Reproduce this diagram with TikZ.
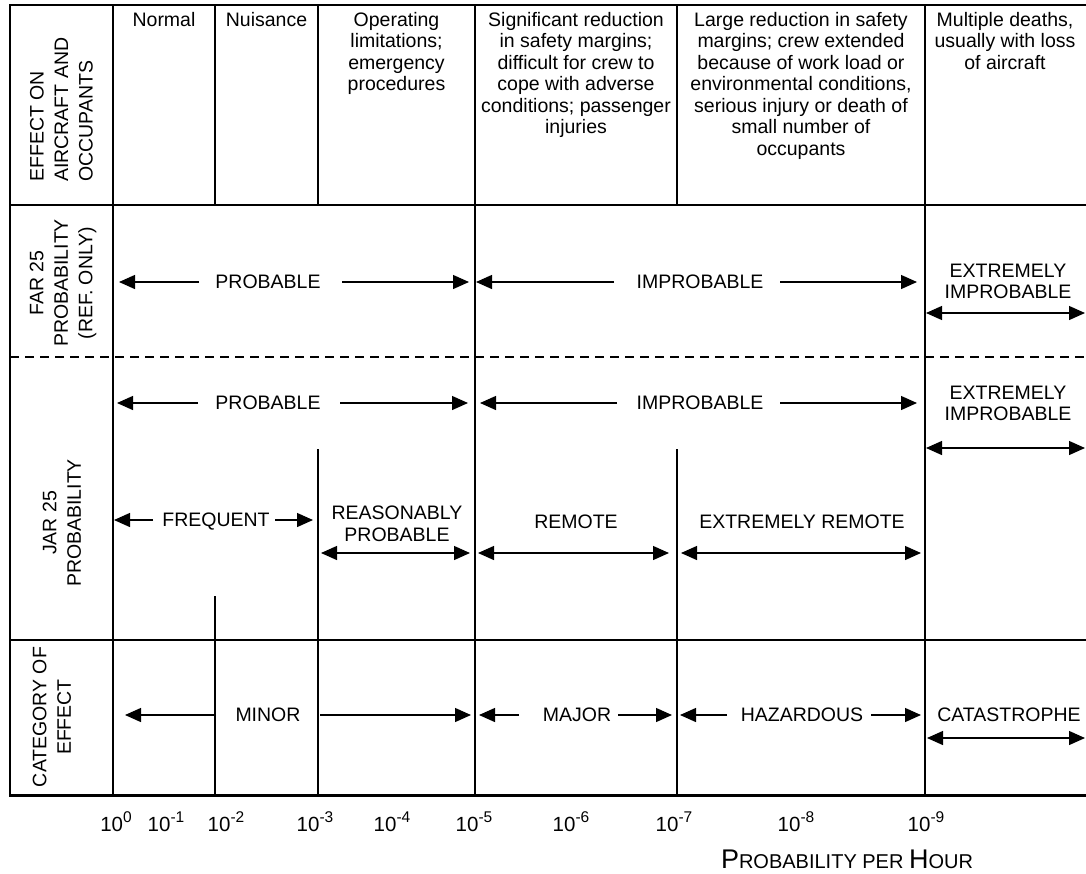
\documentclass[tikz,border=0pt]{standalone}
\usepackage{fontspec}
\setmainfont{Liberation Sans}
\usetikzlibrary{arrows.meta}
\newcommand\fs{\fontsize{19.5}{21.5}\selectfont}
\newcommand\rfs{\fontsize{19.5}{24.5}\selectfont}
\newcommand\bigsc{\fontsize{27}{27}\selectfont}
\newcommand\smsc{\fontsize{20}{22}\selectfont}
\newcommand\tenpow[1]{{\fontsize{20.5}{22}\selectfont 10}\raisebox{8.5pt}{\fontsize{15.5}{15.5}\selectfont #1}}
\begin{document}
\begin{tikzpicture}[x=1pt,y=-1pt,
  thk/.style={line width=2.6pt, line cap=rect},
  med/.style={line width=2.1pt},
  thn/.style={line width=1.8pt},
  hdr/.style={anchor=north, align=center, inner sep=0pt, font=\fs},
  rlab/.style={rotate=90, align=center, inner sep=0pt, font=\rfs},
  lab/.style={inner sep=0pt, font=\fs, align=center},
  Tri/.tip={Triangle[length=16pt,width=14pt]},
  arr/.style={line width=1.3pt,-Tri},
  dar/.style={line width=1.3pt,Tri-Tri}]
\fill[white] (0,0) rectangle (1086,873);
\useasboundingbox (0,0) rectangle (1086,873);
% horizontal lines
\draw[thk] (10,5) -- (1086,5);
\draw[thk] (10,205) -- (1086,205);
\draw[line width=1.8pt, dash pattern=on 9pt off 6pt] (10,357) -- (1086,357);
\draw[thk] (10,640) -- (1086,640);
\draw[thk, line width=3pt] (10,795) -- (1086,795);
% vertical lines
\draw[thk] (10,5) -- (10,795);
\draw[med] (113,5) -- (113,795);
\draw[thk] (215,5) -- (215,205);
\draw[thk] (215,597) -- (215,795);
\draw[med] (318,5) -- (318,205);
\draw[thn] (318,449) -- (318,795);
\draw[med] (475,5) -- (475,795);
\draw[med] (677,5) -- (677,205);
\draw[thn] (677,449) -- (677,795);
\draw[thk, line width=2.8pt] (925,5) -- (925,795);
% header texts
\node[hdr] (hN) at (164,12) {Normal};
\node[hdr] (hNu) at (266.5,12) {Nuisance};
\node[hdr] (hO) at (396.5,12) {Operating\\limitations;\\emergency\\procedures};
\node[hdr] (hS) at (576,12) {Significant reduction\\in safety margins;\\difficult for crew to\\cope with adverse\\conditions; passenger\\injuries};
\node[hdr] (hL) at (801,12) {Large reduction in safety\\margins; crew extended\\because of work load or\\environmental conditions,\\serious injury or death of\\small number of\\occupants};
\node[hdr] (hM) at (1005,12) {Multiple deaths,\\usually with loss\\of aircraft};
% row labels
\node[rlab, align=left, anchor=west] (lE) at (61.5,182) {EFFECT ON\\AIRCRAFT AND\\OCCUPANTS};
\node[rlab] (lF) at (63,283) {FAR 25\\PROBABILITY\\(REF. ONLY)};
\node[rlab] (lJ) at (62,523) {JAR 25\\PROBABILITY};
\node[rlab] (lC) at (52,717) {CATEGORY OF\\EFFECT};
% FAR row
\node[lab] (fP) at (268,282) {PROBABLE};
\coordinate (fP1) at (199,282); \coordinate (fP2) at (119,282);
\coordinate (fP3) at (342,282); \coordinate (fP4) at (469,282);
\draw[arr] (fP1) -- (fP2);
\draw[arr] (fP3) -- (fP4);
\node[lab] (fI) at (700,282) {IMPROBABLE};
\coordinate (fI1) at (614,282); \coordinate (fI2) at (476,282);
\coordinate (fI3) at (780,282); \coordinate (fI4) at (917,282);
\draw[arr] (fI1) -- (fI2);
\draw[arr] (fI3) -- (fI4);
\node[lab] (fE) at (1008,281.5) {EXTREMELY\\IMPROBABLE};
\coordinate (fE1) at (926,313); \coordinate (fE2) at (1085,313);
\draw[dar] (fE1) -- (fE2);
% JAR upper row
\node[lab] (jP) at (268,403) {PROBABLE};
\coordinate (jP1) at (198,403); \coordinate (jP2) at (117,403);
\coordinate (jP3) at (340,403); \coordinate (jP4) at (468,403);
\draw[arr] (jP1) -- (jP2);
\draw[arr] (jP3) -- (jP4);
\node[lab] (jI) at (700,403) {IMPROBABLE};
\coordinate (jI1) at (617,403); \coordinate (jI2) at (480,403);
\coordinate (jI3) at (780,403); \coordinate (jI4) at (917,403);
\draw[arr] (jI1) -- (jI2);
\draw[arr] (jI3) -- (jI4);
\node[lab] (jE) at (1008,403.5) {EXTREMELY\\IMPROBABLE};
\coordinate (jE1) at (926,448); \coordinate (jE2) at (1085,448);
\draw[dar] (jE1) -- (jE2);
% JAR lower row
\node[lab] (jF) at (216,522) {FREQUENT};
\coordinate (jF1) at (153,520); \coordinate (jF2) at (114,520);
\coordinate (jF3) at (275,520); \coordinate (jF4) at (313,520);
\draw[arr] (jF1) -- (jF2);
\draw[arr] (jF3) -- (jF4);
\node[lab] (jR) at (397,524) {REASONABLY\\PROBABLE};
\coordinate (jR1) at (321,553); \coordinate (jR2) at (470,553);
\draw[dar] (jR1) -- (jR2);
\node[lab] (jM) at (576,522) {REMOTE};
\coordinate (jM1) at (478,553); \coordinate (jM2) at (669,553);
\draw[dar] (jM1) -- (jM2);
\node[lab] (jX) at (802,522) {EXTREMELY REMOTE};
\coordinate (jX1) at (681,553); \coordinate (jX2) at (921,553);
\draw[dar] (jX1) -- (jX2);
% category row
\node[lab] (cMi) at (268,715) {MINOR};
\coordinate (cMi1) at (216,715); \coordinate (cMi2) at (125,715);
\coordinate (cMi3) at (320,715); \coordinate (cMi4) at (471,715);
\draw[arr] (cMi1) -- (cMi2);
\draw[arr] (cMi3) -- (cMi4);
\node[lab] (cMa) at (577,715) {MAJOR};
\coordinate (cMa1) at (519,715); \coordinate (cMa2) at (479,715);
\coordinate (cMa3) at (618,715); \coordinate (cMa4) at (672,715);
\draw[arr] (cMa1) -- (cMa2);
\draw[arr] (cMa3) -- (cMa4);
\node[lab] (cH) at (802,715) {HAZARDOUS};
\coordinate (cH1) at (727,715); \coordinate (cH2) at (680,715);
\coordinate (cH3) at (871,715); \coordinate (cH4) at (921,715);
\draw[arr] (cH1) -- (cH2);
\draw[arr] (cH3) -- (cH4);
\node[lab] (cC) at (1009,715) {CATASTROPHE};
\coordinate (cC1) at (927,738); \coordinate (cC2) at (1085,738);
\draw[dar] (cC1) -- (cC2);
% axis labels
\node[lab, anchor=base] (e0) at (116,831) {\tenpow{0}};
\node[lab, anchor=base] (e1) at (166,831) {\tenpow{-1}};
\node[lab, anchor=base] (e2) at (226,831) {\tenpow{-2}};
\node[lab, anchor=base] (e3) at (315,831) {\tenpow{-3}};
\node[lab, anchor=base] (e4) at (392,831) {\tenpow{-4}};
\node[lab, anchor=base] (e5) at (474,831) {\tenpow{-5}};
\node[lab, anchor=base] (e6) at (571,831) {\tenpow{-6}};
\node[lab, anchor=base] (e7) at (674,831) {\tenpow{-7}};
\node[lab, anchor=base] (e8) at (796,831) {\tenpow{-8}};
\node[lab, anchor=base] (e9) at (926,831) {\tenpow{-9}};
\node[inner sep=0pt, anchor=base] (pph) at (847,868) {{\bigsc P}{\smsc ROBABILITY PER }{\bigsc H}{\smsc OUR}};
\end{tikzpicture}
\end{document}
